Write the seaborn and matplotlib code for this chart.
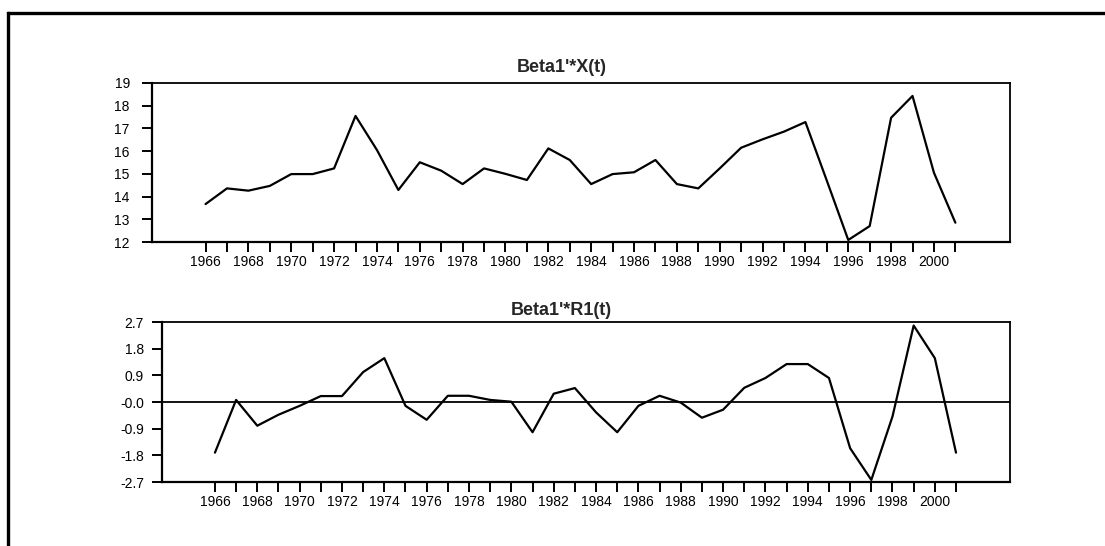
import pandas as pd
import seaborn as sns
import matplotlib.pyplot as plt
from matplotlib.lines import Line2D

# 데이터
years = list(range(1966, 2002))
beta_x = [13.67, 14.36, 14.26, 14.47, 14.99, 14.99, 15.24, 17.55, 16.05, 14.29,
          15.51, 15.14, 14.55, 15.24, 15.00, 14.73, 16.12, 15.61, 14.55, 14.99,
          15.07, 15.61, 14.55, 14.36, 15.24, 16.15, 16.52, 16.86, 17.28, 14.70,
          12.09, 12.70, 17.47, 18.43, 15.05, 12.85]
beta_r1 = [-1.71, 0.07, -0.80, -0.43, -0.13, 0.20, 0.20, 1.01, 1.48, -0.13,
           -0.60, 0.21, 0.21, 0.07, 0.01, -1.02, 0.28, 0.47, -0.35, -1.02,
           -0.13, 0.21, -0.02, -0.53, -0.26, 0.48, 0.81, 1.28, 1.28, 0.81,
           -1.56, -2.63, -0.49, 2.58, 1.48, -1.71]
top_yticks = [12, 13, 14, 15, 16, 17, 18, 19]
bot_yticks = [-2.7, -1.8, -0.9, 0.0, 0.9, 1.8, 2.7]
bot_ylabels = ['-2.7', '-1.8', '-0.9', '-0.0', '0.9', '1.8', '2.7']

df = pd.DataFrame({'year': years, 'X': beta_x, 'R1': beta_r1})

sns.set_style('ticks')
plt.rcParams['font.family'] = ['Liberation Sans', 'DejaVu Sans']

fig = plt.figure(figsize=(11.05, 5.46), dpi=100)
ax1 = fig.add_axes([152 / 1105, 1 - 242 / 546, 858 / 1105, 159 / 546])
ax2 = fig.add_axes([162 / 1105, 1 - 482 / 546, 848 / 1105, 160 / 546])

# 위 패널
sns.lineplot(data=df, x='year', y='X', ax=ax1, color='black', linewidth=1.6)
ax1.set_ylim(12, 19)
ax1.set_yticks(top_yticks)
ax1.set_yticklabels([str(v) for v in top_yticks])
ax1.set_title("Beta1'*X(t)", fontsize=13, fontweight='bold',
              x=(562 - 152) / 858, pad=8)
ax1.tick_params(axis='y', pad=9)

# 아래 패널
sns.lineplot(data=df, x='year', y='R1', ax=ax2, color='black', linewidth=1.6)
ax2.axhline(0, color='black', linewidth=1.3)
ax2.set_ylim(-2.7, 2.7)
ax2.set_yticks(bot_yticks)
ax2.set_yticklabels(bot_ylabels)
ax2.set_title("Beta1'*R1(t)", fontsize=13, fontweight='bold',
              x=(561 - 162) / 848, pad=5)
ax2.tick_params(axis='y', pad=6)

for ax in (ax1, ax2):
    ax.set_xlim(1963.5, 2003.55)
    ax.set_xticks(years)
    ax.set_xticklabels([str(y) if y % 2 == 0 else '' for y in years])
    ax.set_xlabel('')
    ax.set_ylabel('')
    ax.tick_params(axis='both', direction='out', length=7, width=1.4,
                   labelsize=10, colors='black')
    ax.tick_params(axis='x', pad=2)
    for s in ax.spines.values():
        s.set_visible(True)
        s.set_linewidth(1.3)
        s.set_color('black')
    ax.spines['bottom'].set_linewidth(1.6)
    ax.spines['left'].set_linewidth(1.6)

# 바깥 테두리
fig.add_artist(Line2D([8 / 1105, 1], [1 - 13 / 546, 1 - 13 / 546],
                      transform=fig.transFigure, color='black', linewidth=2.4))
fig.add_artist(Line2D([8 / 1105, 8 / 1105], [0, 1 - 13 / 546],
                      transform=fig.transFigure, color='black', linewidth=2.4,
                      solid_capstyle='projecting'))

fig.savefig('out.png', dpi=100)
